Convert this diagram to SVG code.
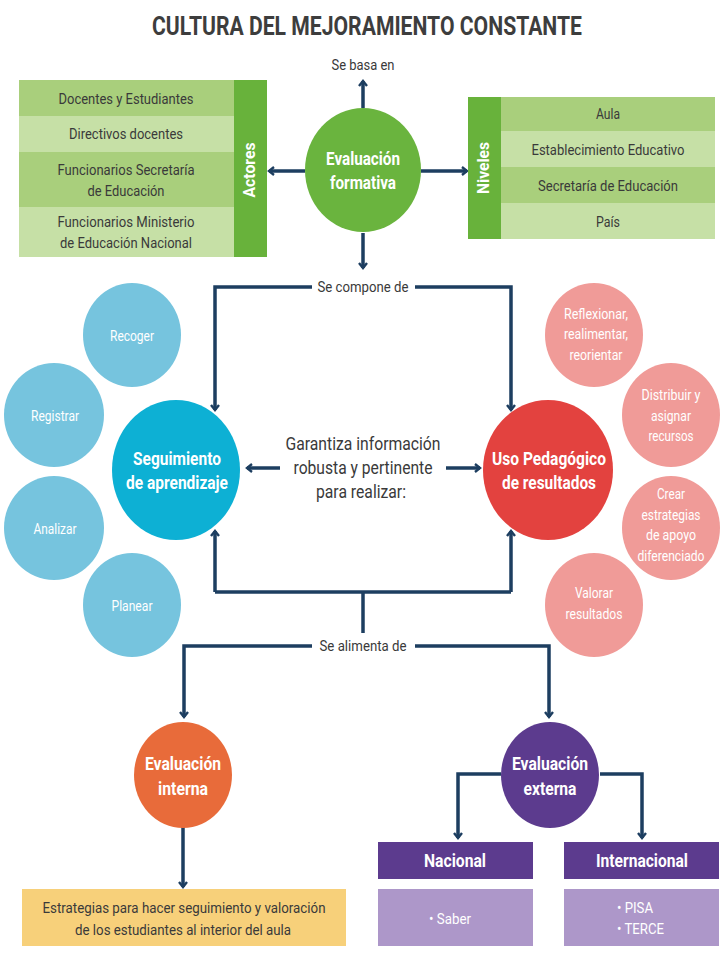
<svg xmlns="http://www.w3.org/2000/svg" width="723" height="960" viewBox="0 0 723 960">
<defs>
<marker id="ah" viewBox="0 0 10 10" refX="8" refY="5" markerWidth="10" markerHeight="10" markerUnits="userSpaceOnUse" orient="auto">
<path d="M3,1 L8,5 L3,9" fill="none" stroke="#1d3e60" stroke-width="2.4"/>
</marker>
<style>
text{font-family:Roboto,"Liberation Sans",sans-serif;text-anchor:middle}
.t{fill:#3a3a3a;font-size:15px}
.w{fill:#ffffff;font-size:14px}
.b{fill:#ffffff;font-size:19px;font-weight:bold}
.lbl{fill:#3a3a3a;font-size:14px}
.c{fill:none;stroke:#1d3e60;stroke-width:3.5}
.a{marker-end:url(#ah)}
.gm{fill:#a9cf7c}.gl{fill:#c6e0a6}.gb{fill:#68b23b}
.sc{fill:#76c4de}.sp{fill:#f09b98}
</style>
</defs>
<rect width="723" height="960" fill="#ffffff"/>
<text x="367" y="35" style="font-size:26px;font-weight:bold;fill:#3d3d3d" textLength="430" lengthAdjust="spacingAndGlyphs">CULTURA DEL MEJORAMIENTO CONSTANTE</text>

<g id="connectors">
<path class="c a" d="M363,108 L363,81"/>
<path class="c a" d="M305,171 L269,171"/>
<path class="c a" d="M421,171 L467,171"/>
<path class="c a" d="M363,233 L363,268"/>
<path class="c a" d="M312,287 L215,287 L215,410"/>
<path class="c a" d="M415,287 L511,287 L511,410"/>
<path class="c a" d="M280,468 L247,468"/>
<path class="c a" d="M446,468 L480,468"/>
<path class="c" d="M215,592 L511,592"/>
<path class="c a" d="M215,592 L215,531"/>
<path class="c a" d="M511,592 L511,531"/>
<path class="c" d="M363,592 L363,633"/>
<path class="c a" d="M312,646 L184,646 L184,717"/>
<path class="c a" d="M415,646 L549,646 L549,717"/>
<path class="c a" d="M183,827 L183,887"/>
<path class="c a" d="M501,774 L458,774 L458,838"/>
<path class="c a" d="M600,774 L642,774 L642,838"/>
</g>

<g id="labels">
<text class="lbl" x="363" y="70" textLength="63" lengthAdjust="spacingAndGlyphs">Se basa en</text>
<text class="lbl" x="363" y="292" textLength="91" lengthAdjust="spacingAndGlyphs">Se compone de</text>
<text class="lbl" x="363" y="651" textLength="87" lengthAdjust="spacingAndGlyphs">Se alimenta de</text>
</g>

<g id="actores">
<rect class="gm" x="19" y="80" width="215" height="36"/>
<rect class="gl" x="19" y="116" width="215" height="36"/>
<rect class="gm" x="19" y="152" width="215" height="55"/>
<rect class="gl" x="19" y="207" width="215" height="50"/>
<rect class="gb" x="234" y="80" width="33" height="177"/>
<text class="t" x="126" y="104" textLength="135" lengthAdjust="spacingAndGlyphs">Docentes y Estudiantes</text>
<text class="t" x="126" y="139" textLength="114" lengthAdjust="spacingAndGlyphs">Directivos docentes</text>
<text class="t" x="126" y="175" textLength="137" lengthAdjust="spacingAndGlyphs">Funcionarios Secretaría</text>
<text class="t" x="126" y="196" textLength="77" lengthAdjust="spacingAndGlyphs">de Educación</text>
<text class="t" x="126" y="227" textLength="137" lengthAdjust="spacingAndGlyphs">Funcionarios Ministerio</text>
<text class="t" x="126" y="248" textLength="132" lengthAdjust="spacingAndGlyphs">de Educación Nacional</text>
<text transform="translate(255,170) rotate(-90)" x="0" y="0" style="fill:#fff;font-size:16px;font-weight:bold" textLength="55" lengthAdjust="spacingAndGlyphs">Actores</text>
</g>

<g id="niveles">
<rect class="gm" x="501" y="97" width="214" height="34"/>
<rect class="gl" x="501" y="131" width="214" height="36"/>
<rect class="gm" x="501" y="167" width="214" height="36"/>
<rect class="gl" x="501" y="203" width="214" height="36"/>
<rect class="gb" x="468" y="97" width="33" height="142"/>
<text class="t" x="608" y="119" textLength="24" lengthAdjust="spacingAndGlyphs">Aula</text>
<text class="t" x="608" y="155" textLength="153" lengthAdjust="spacingAndGlyphs">Establecimiento Educativo</text>
<text class="t" x="608" y="191" textLength="140" lengthAdjust="spacingAndGlyphs">Secretaría de Educación</text>
<text class="t" x="608" y="227" textLength="24" lengthAdjust="spacingAndGlyphs">País</text>
<text transform="translate(489,168) rotate(-90)" x="0" y="0" style="fill:#fff;font-size:16px;font-weight:bold" textLength="52" lengthAdjust="spacingAndGlyphs">Niveles</text>
</g>

<g id="evaluacion-formativa">
<ellipse cx="363" cy="170" rx="58" ry="62" fill="#6ab43e"/>
<text class="b" x="363" y="165" textLength="74" lengthAdjust="spacingAndGlyphs">Evaluación</text>
<text class="b" x="363" y="189" textLength="66" lengthAdjust="spacingAndGlyphs">formativa</text>
</g>

<g id="seguimiento">
<ellipse cx="176" cy="470" rx="64" ry="70" fill="#0db0d4"/>
<text class="b" x="177" y="465" textLength="88" lengthAdjust="spacingAndGlyphs">Seguimiento</text>
<text class="b" x="177" y="489" textLength="102" lengthAdjust="spacingAndGlyphs">de aprendizaje</text>
</g>

<g id="uso-pedagogico">
<ellipse cx="548" cy="470" rx="65" ry="70" fill="#e3423f"/>
<text class="b" x="549" y="465" textLength="114" lengthAdjust="spacingAndGlyphs">Uso Pedagógico</text>
<text class="b" x="549" y="489" textLength="94" lengthAdjust="spacingAndGlyphs">de resultados</text>
</g>

<g id="garantiza">
<text class="t" style="font-size:18px" x="363" y="450" textLength="155" lengthAdjust="spacingAndGlyphs">Garantiza información</text>
<text class="t" style="font-size:18px" x="363" y="474" textLength="139" lengthAdjust="spacingAndGlyphs">robusta y pertinente</text>
<text class="t" style="font-size:18px" x="361" y="498" textLength="90" lengthAdjust="spacingAndGlyphs">para realizar:</text>
</g>

<g id="recoger"><ellipse class="sc" cx="132" cy="335" rx="49" ry="52"/><text class="w" x="132" y="341" textLength="44" lengthAdjust="spacingAndGlyphs">Recoger</text></g>
<g id="registrar"><ellipse class="sc" cx="54" cy="415" rx="50" ry="52"/><text class="w" x="55" y="421" textLength="48" lengthAdjust="spacingAndGlyphs">Registrar</text></g>
<g id="analizar"><ellipse class="sc" cx="54" cy="528" rx="50" ry="52"/><text class="w" x="55" y="534" textLength="43" lengthAdjust="spacingAndGlyphs">Analizar</text></g>
<g id="planear"><ellipse class="sc" cx="132" cy="605" rx="49" ry="52"/><text class="w" x="132" y="611" textLength="41" lengthAdjust="spacingAndGlyphs">Planear</text></g>

<g id="reflexionar"><ellipse class="sp" cx="594" cy="335" rx="49" ry="52"/>
<text class="w" x="596" y="319" textLength="64" lengthAdjust="spacingAndGlyphs">Reflexionar,</text>
<text class="w" x="596" y="339" textLength="64" lengthAdjust="spacingAndGlyphs">realimentar,</text>
<text class="w" x="596" y="360" textLength="53" lengthAdjust="spacingAndGlyphs">reorientar</text></g>
<g id="distribuir"><ellipse class="sp" cx="671" cy="415" rx="49" ry="52"/>
<text class="w" x="671" y="400" textLength="59" lengthAdjust="spacingAndGlyphs">Distribuir y</text>
<text class="w" x="671" y="421" textLength="40" lengthAdjust="spacingAndGlyphs">asignar</text>
<text class="w" x="671" y="441" textLength="45" lengthAdjust="spacingAndGlyphs">recursos</text></g>
<g id="crear"><ellipse class="sp" cx="671" cy="528" rx="49" ry="52"/>
<text class="w" x="671" y="499" textLength="28" lengthAdjust="spacingAndGlyphs">Crear</text>
<text class="w" x="671" y="520" textLength="59" lengthAdjust="spacingAndGlyphs">estrategias</text>
<text class="w" x="671" y="540" textLength="50" lengthAdjust="spacingAndGlyphs">de apoyo</text>
<text class="w" x="671" y="561" textLength="67" lengthAdjust="spacingAndGlyphs">diferenciado</text></g>
<g id="valorar"><ellipse class="sp" cx="594" cy="605" rx="49" ry="52"/>
<text class="w" x="594" y="598" textLength="38" lengthAdjust="spacingAndGlyphs">Valorar</text>
<text class="w" x="594" y="619" textLength="57" lengthAdjust="spacingAndGlyphs">resultados</text></g>

<g id="evaluacion-interna">
<ellipse cx="183" cy="775" rx="49" ry="53" fill="#e86b3a"/>
<text class="b" style="font-size:18px" x="183" y="770" textLength="76" lengthAdjust="spacingAndGlyphs">Evaluación</text>
<text class="b" style="font-size:18px" x="183" y="795" textLength="50" lengthAdjust="spacingAndGlyphs">interna</text>
</g>

<g id="evaluacion-externa">
<ellipse cx="550" cy="775" rx="49" ry="53" fill="#5c3b8e"/>
<text class="b" style="font-size:18px" x="550" y="770" textLength="76" lengthAdjust="spacingAndGlyphs">Evaluación</text>
<text class="b" style="font-size:18px" x="550" y="795" textLength="53" lengthAdjust="spacingAndGlyphs">externa</text>
</g>

<g id="estrategias">
<rect x="22" y="889" width="324" height="57" fill="#f7d07a"/>
<text class="t" x="184" y="913" textLength="283" lengthAdjust="spacingAndGlyphs">Estrategias para hacer seguimiento y valoración</text>
<text class="t" x="183" y="935" textLength="216" lengthAdjust="spacingAndGlyphs">de los estudiantes al interior del aula</text>
</g>

<g id="nacional">
<rect x="378" y="842" width="155" height="37" fill="#5c3b8e"/>
<text class="b" style="font-size:18px" x="455" y="867" textLength="62" lengthAdjust="spacingAndGlyphs">Nacional</text>
<rect x="378" y="889" width="155" height="57" fill="#ad97c9"/>
<text class="w" style="font-size:15px" x="450" y="924" textLength="42" lengthAdjust="spacingAndGlyphs">• Saber</text>
</g>

<g id="internacional">
<rect x="564" y="842" width="155" height="37" fill="#5c3b8e"/>
<text class="b" style="font-size:18px" x="642" y="867" textLength="92" lengthAdjust="spacingAndGlyphs">Internacional</text>
<rect x="564" y="889" width="155" height="57" fill="#ad97c9"/>
<text class="w" style="font-size:15px;text-anchor:start" x="617" y="913" textLength="36" lengthAdjust="spacingAndGlyphs">• PISA</text>
<text class="w" style="font-size:15px;text-anchor:start" x="617" y="934" textLength="47" lengthAdjust="spacingAndGlyphs">• TERCE</text>
</g>
</svg>
